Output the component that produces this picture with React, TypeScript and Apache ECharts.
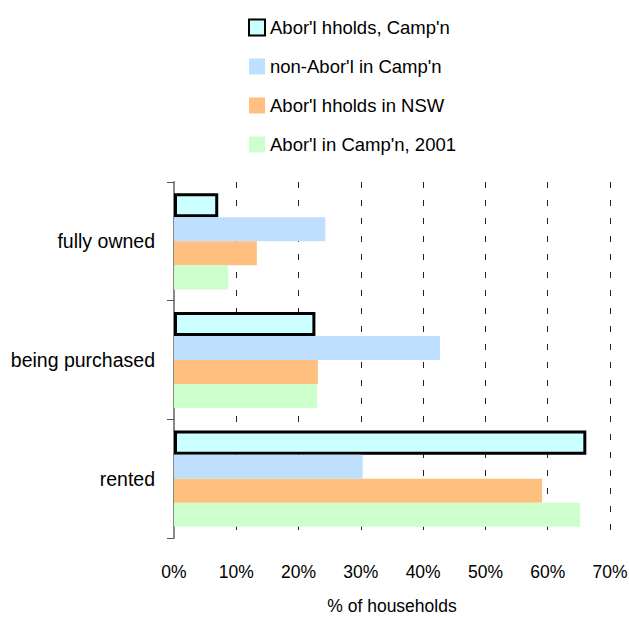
import React, { useEffect, useRef } from "react";
import * as echarts from "echarts";

const categories = ["fully owned", "being purchased", "rented"];
const seriesNames = [
  "Abor'l hholds, Camp'n",
  "non-Abor'l in Camp'n",
  "Abor'l hholds in NSW",
  "Abor'l in Camp'n, 2001",
];
const aborCampn = [7.1, 22.7, 66.2];
const nonAborCampn = [24.3, 42.7, 30.3];
const aborNSW = [13.3, 23.1, 59.1];
const abor2001 = [8.7, 23.0, 65.2];
const xTicks = [0, 10, 20, 30, 40, 50, 60, 70];

const colors = ["#ccffff", "#bfdfff", "#ffbf7f", "#ccffcc"];
const FONT = "'Liberation Sans', Arial, sans-serif";

export default function App() {
  const ref = useRef<HTMLDivElement>(null);
  useEffect(() => {
    if (!ref.current) return;
    const chart = echarts.init(ref.current, null, { renderer: "svg" });
    const data = [aborCampn, nonAborCampn, aborNSW, abor2001];
    chart.setOption({
      animation: false,
      textStyle: { fontFamily: FONT },
      legend: {
        orient: "vertical",
        left: 243,
        top: 13,
        itemWidth: 16,
        itemHeight: 16,
        itemGap: 20,
        icon: "rect",
        textStyle: { fontSize: 18.5, color: "#000", fontFamily: FONT },
        data: seriesNames,
      },
      grid: {
        left: 174,
        right: 19,
        top: 182,
        bottom: 79,
        containLabel: false,
        outerBoundsMode: "none",
      },
      xAxis: {
        type: "value",
        min: xTicks[0],
        max: xTicks[xTicks.length - 1],
        interval: 10,
        name: "% of households",
        nameLocation: "middle",
        nameGap: 59,
        nameTextStyle: { fontSize: 17.5, color: "#000", fontFamily: FONT },
        axisLine: { show: false },
        axisTick: { show: false },
        axisLabel: {
          formatter: "{value}%",
          fontSize: 17.5,
          color: "#000",
          margin: 25,
          fontFamily: FONT,
        },
        splitLine: {
          show: true,
          lineStyle: { color: "#222", type: [6, 12], width: 1 },
        },
      },
      yAxis: {
        type: "category",
        data: categories,
        inverse: true,
        axisLine: { show: true, lineStyle: { color: "#888", width: 2 } },
        axisTick: { show: true, length: 7, lineStyle: { color: "#555", width: 1 } },
        axisLabel: { fontSize: 19.5, color: "#000", margin: 19, fontFamily: FONT },
        splitLine: { show: false },
      },
      series: seriesNames.map((name, i) => ({
        name,
        type: "bar",
        data: data[i],
        barGap: "0%",
        barCategoryGap: "19%",
        itemStyle:
          i === 0
            ? { color: colors[i], borderColor: "#000", borderWidth: 3 }
            : { color: colors[i] },
      })),
    });
    return () => chart.dispose();
  }, []);
  return <div ref={ref} style={{ width: 629, height: 617, position: "absolute", left: 0, top: 0 }} />;
}
